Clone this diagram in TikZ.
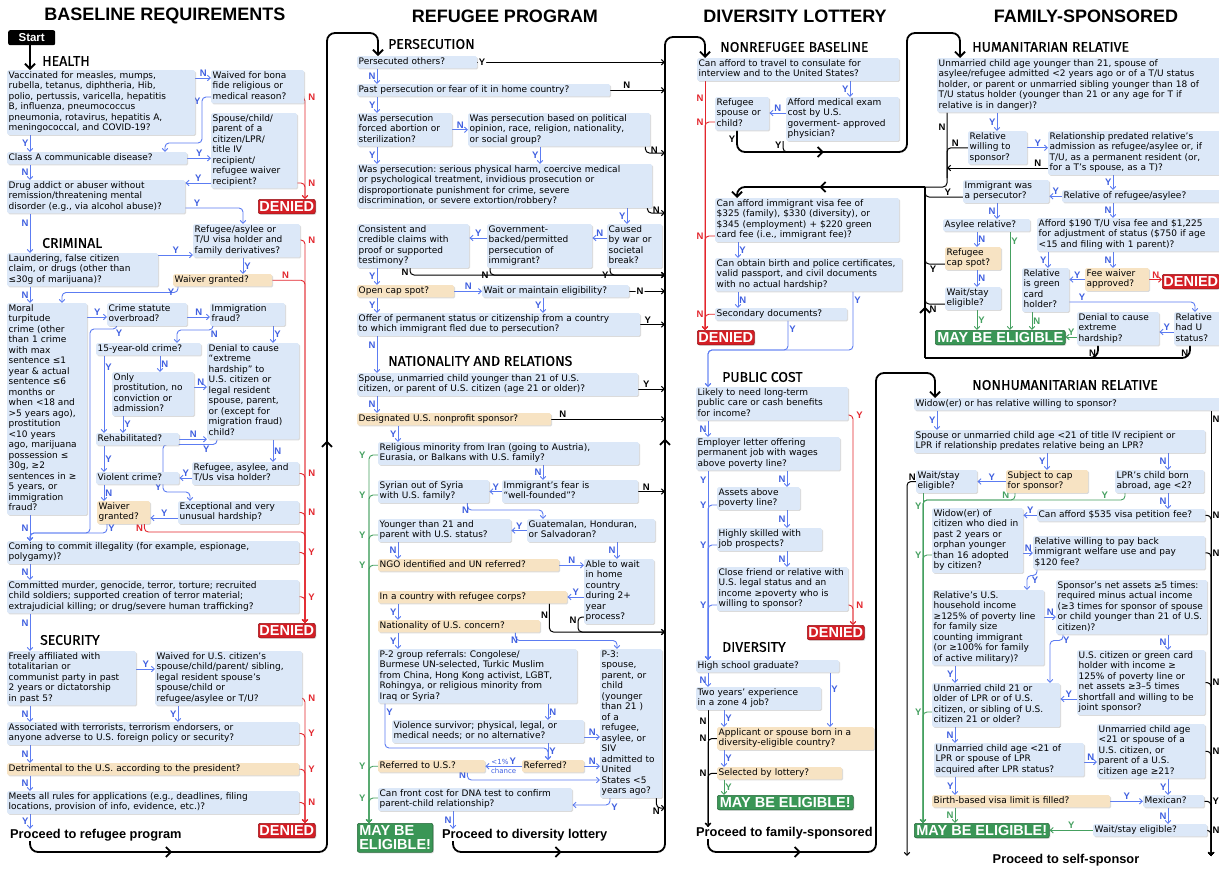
\documentclass[tikz,border=0pt]{standalone}
\usepackage{fontspec}
\usepackage{tikz}
\usetikzlibrary{arrows.meta,shadows,decorations.markings}
\pgfdeclarelayer{bg}
\pgfsetlayers{bg,main}

\newfontfamily\boxfamily{DejaVu Sans}
\newfontfamily\labfamily{Liberation Sans}
\newfontfamily\secfamily{Fira Sans}[FakeBold=0.6]
\newcommand\boxfont{\boxfamily\fontsize{9}{10.5}\selectfont\frenchspacing\hyphenpenalty=10000\exhyphenpenalty=10000}
\newcommand\ynfont{\labfamily\bfseries\fontsize{9.5}{10}\selectfont}
\newcommand\headfont{\secfamily\fontsize{14}{14}\selectfont}
\newcommand\bigtitlefont{\labfamily\bfseries\fontsize{18}{18}\selectfont}
\newcommand\badgefont{\labfamily\bfseries\fontsize{14.5}{14}\selectfont}
\newcommand\gofont{\labfamily\bfseries\fontsize{12.8}{12}\selectfont}
\newcommand\chancefont{\boxfamily\fontsize{7}{7}\selectfont}

\definecolor{qblue}{HTML}{DCE8F8}
\definecolor{qtan}{HTML}{F7E3C3}
\definecolor{lblue}{HTML}{5C7CF2}
\definecolor{labblue}{HTML}{3F5FE0}
\definecolor{lred}{HTML}{E3262D}
\definecolor{dred}{HTML}{D41E25}
\definecolor{lgreen}{HTML}{45A060}
\definecolor{dgreen}{HTML}{3A9656}

\begin{document}
\begin{tikzpicture}[x=1pt,y=-1pt,>={Straight Barb[length=3pt,width=5.5pt]},
  q node/.style={anchor=north west,fill=qblue,rounded corners=1.5pt,inner xsep=1.5pt,
    inner ysep=0.8pt,align=left,font=\boxfont,execute at begin node=\strut,
    execute at end node=\strut,drop shadow={shadow xshift=1pt,shadow yshift=-1pt,opacity=.28}},
  tan node/.style={q node,fill=qtan},
  denied node/.style={anchor=north west,fill=dred,draw=dred!70!black,line width=.6pt,text=white,
    font=\badgefont,rounded corners=2pt,minimum width=57pt,minimum height=14.5pt,inner sep=0pt,
    drop shadow={shadow xshift=1pt,shadow yshift=-1pt,opacity=.28}},
  ok node/.style={denied node,fill=dgreen,draw=dgreen!70!black,align=left,inner xsep=2pt},
  head node/.style={anchor=west,font=\headfont,inner sep=0pt},
  title node/.style={font=\bigtitlefont,inner sep=0pt},
  go node/.style={anchor=west,font=\gofont,inner sep=0pt},
  bl line/.style={draw=lblue,line width=.9pt,rounded corners=4pt,->},
  rd line/.style={draw=lred,line width=.9pt,rounded corners=4pt,->},
  gr line/.style={draw=lgreen,line width=.9pt,rounded corners=4pt,->},
  bk line/.style={draw=black,line width=1pt,rounded corners=4pt,->},
  bracket/.style={draw=black,line width=1.8pt,rounded corners=8pt},
  big tip/.style={-{Straight Barb[length=5pt,width=10pt]}},
  mid tip/.style={postaction={decorate,decoration={markings,
    mark=at position #1 with {\arrow{Straight Barb[length=5pt,width=10pt]}}}}},
  bl lab/.style={font=\ynfont,text=labblue,inner sep=1pt},
  rd lab/.style={font=\ynfont,text=lred,inner sep=1pt},
  gr lab/.style={font=\ynfont,text=lgreen,inner sep=1pt},
  bk lab/.style={font=\ynfont,text=black,inner sep=1pt}]

  \useasboundingbox (0,0) rectangle (1219,871);

  % titles and headings
  \node[title node] (t1) at (165,16) {BASELINE REQUIREMENTS};
  \node[title node] (t2) at (505,16) {REFUGEE PROGRAM};
  \node[title node] (t3) at (795,16) {DIVERSITY LOTTERY};
  \node[title node] (t4) at (1086,16) {FAMILY-SPONSORED};
  \node[head node] (health) at (42,61) {HEALTH};
  \node[head node] (criminal) at (42,243) {CRIMINAL};
  \node[head node] (security) at (40,640) {SECURITY};
  \node[head node] (persecution) at (388,44) {PERSECUTION};
  \node[head node] (nationality) at (388,361) {NATIONALITY AND RELATIONS};
  \node[head node] (nonref) at (720,47) {NONREFUGEE BASELINE};
  \node[head node] (pubcost) at (722,377) {PUBLIC COST};
  \node[head node] (diversity) at (722,647) {DIVERSITY};
  \node[head node] (humrel) at (972,47) {HUMANITARIAN RELATIVE};
  \node[head node] (nonhum) at (972,385) {NONHUMANITARIAN RELATIVE};
  \node[go node] (go1) at (10,835) {Proceed to refugee program};
  \node[go node] (go2) at (442,835) {Proceed to diversity lottery};
  \node[go node] (go3) at (696,833) {Proceed to family-sponsored};
  \node[go node,anchor=center] (go4) at (1066,860) {Proceed to self-sponsor};
  \node[anchor=north west,fill=black,text=white,font=\labfamily\bfseries\fontsize{11.5}{11}\selectfont,
    rounded corners=2pt,minimum width=47pt,minimum height=15pt,inner sep=0pt] (start) at (8,30) {Start};

  % baseline requirements
  \node[q node,text width=185pt] (vacc) at (7,70) {Vaccinated for measles, mumps,\\rubella, tetanus, diphtheria, Hib,\\polio, pertussis, varicella, hepatitis\\B, influenza, pneumococcus\\pneumonia, rotavirus, hepatitis A,\\meningococcal, and COVID-19?};
  \node[q node,text width=90pt] (waived) at (211,70) {Waived for bona\\fide religious or\\medical reason?};
  \node[q node,text width=83pt] (spouse) at (211,113) {Spouse/child/\\parent of a\\citizen/LPR/\\title IV\\recipient/\\refugee waiver\\recipient?};
  \node[q node,text width=177pt] (classA) at (7,152) {Class A communicable disease?};
  \node[q node,text width=175pt] (drug) at (7,180) {Drug addict or abuser without\\remission/threatening mental\\disorder (e.g., via alcohol abuse)?};
  \node[denied node] (den1) at (258,199) {DENIED};
  \node[q node,text width=104pt] (refasylee) at (193,224) {Refugee/asylee or\\T/U visa holder and\\family derivatives?};
  \node[q node,text width=148pt] (launder) at (7,253) {Laundering, false citizen\\claim, or drugs (other than\\≤30g of marijuana)?};
  \node[tan node,text width=96pt] (waiver1) at (173,274) {Waiver granted?};
  \node[q node,text width=77pt] (moral) at (7,303) {Moral\\turpitude\\crime (other\\than 1 crime\\with max\\sentence ≤1\\year \& actual\\sentence ≤6\\months or\\when <18 and\\>5 years ago),\\prostitution\\<10 years\\ago, marijuana\\possession ≤\\30g, ≥2\\sentences in ≥\\5 years, or\\immigration\\fraud?};
  \node[q node,text width=77pt] (statute) at (107,303) {Crime statute\\overbroad?};
  \node[q node,text width=72pt] (immfraud) at (210,303) {Immigration\\fraud?};
  \node[q node,text width=102pt] (fifteen) at (96,343) {15-year-old crime?};
  \node[q node,text width=89pt] (denial1) at (207,343) {Denial to cause\\“extreme\\hardship” to\\U.S. citizen or\\legal resident\\spouse, parent,\\or (except for\\migration fraud)\\child?};
  \node[q node,text width=79pt] (onlyprost) at (112,372) {Only\\prostitution, no\\conviction or\\admission?};
  \node[q node,text width=80pt] (rehab) at (96,433) {Rehabilitated?};
  \node[q node,text width=104pt] (refasy2) at (192,462) {Refugee, asylee, and\\T/Us visa holder?};
  \node[q node,text width=80pt] (violent) at (96,472) {Violent crime?};
  \node[tan node,text width=50pt] (waiver2) at (97,501) {Waiver\\granted?};
  \node[q node,text width=118pt] (except) at (178,501) {Exceptional and very\\unusual hardship?};
  \node[q node,text width=289pt] (coming) at (7,541) {Coming to commit illegality (for example, espionage,\\polygamy)?};
  \node[q node,text width=289pt] (murder) at (7,580) {Committed murder, genocide, terror, torture; recruited\\child soldiers; supported creation of terror material;\\extrajudicial killing; or drug/severe human trafficking?};
  \node[denied node] (den2) at (258,623) {DENIED};
  \node[q node,text width=126pt] (freely) at (7,651) {Freely affiliated with\\totalitarian or\\communist party in past\\2 years or dictatorship\\in past 5?};
  \node[q node,text width=144pt] (waivedUS) at (155,651) {Waived for U.S. citizen’s\\spouse/child/parent/ sibling,\\legal resident spouse’s\\spouse/child or\\refugee/asylee or T/U?};
  \node[q node,text width=289pt] (assoc) at (7,722) {Associated with terrorists, terrorism endorsers, or\\anyone adverse to U.S. foreign policy or security?};
  \node[tan node,text width=289pt] (detr) at (7,763) {Detrimental to the U.S. according to the president?};
  \node[q node,text width=289pt] (meets) at (7,791) {Meets all rules for applications (e.g., deadlines, filing\\locations, provision of info, evidence, etc.)?};
  \node[denied node] (den3) at (258,823) {DENIED};

  % refugee program
  \node[q node,text width=117pt] (persecuted) at (357,56) {Persecuted others?};
  \node[q node,text width=250pt] (past) at (357,84) {Past persecution or fear of it in home country?};
  \node[q node,text width=92pt] (wasforced) at (357,113) {Was persecution\\forced abortion or\\sterilization?};
  \node[q node,text width=179pt] (wasbased) at (468,113) {Was persecution based on political\\opinion, race, religion, nationality,\\or social group?};
  \node[q node,text width=292pt] (wasser) at (357,164) {Was persecution: serious physical harm, coercive medical\\or psychological treatment, invidious prosecution or\\disproportionate punishment for crime, severe\\discrimination, or severe extortion/robbery?};
  \node[q node,text width=109pt] (consist) at (357,224) {Consistent and\\credible claims with\\proof or supported\\testimony?};
  \node[q node,text width=102pt] (govt) at (487,224) {Government-\\backed/permitted\\persecution of\\immigrant?};
  \node[q node,text width=52pt] (caused) at (607,224) {Caused\\by war or\\societal\\break?};
  \node[tan node,text width=94pt] (opencap) at (357,285) {Open cap spot?};
  \node[q node,text width=144pt] (waitmaint) at (482,285) {Wait or maintain eligibility?};
  \node[q node,text width=280pt] (offer) at (357,313) {Offer of permanent status or citizenship from a country\\to which immigrant fled due to persecution?};
  \node[q node,text width=278pt] (spouseunm) at (357,373) {Spouse, unmarried child younger than 21 of U.S.\\citizen, or parent of U.S. citizen (age 21 or older)?};
  \node[tan node,text width=191pt] (desig) at (357,413) {Designated U.S. nonprofit sponsor?};
  \node[q node,text width=258pt] (relig) at (378,442) {Religious minority from Iran (going to Austria),\\Eurasia, or Balkans with U.S. family?};
  \node[q node,text width=133pt] (fear) at (502,480) {Immigrant’s fear is\\“well-founded”?};
  \node[q node,text width=108pt] (syrian) at (378,480) {Syrian out of Syria\\with U.S. family?};
  \node[q node,text width=125pt] (guat) at (527,519) {Guatemalan, Honduran,\\or Salvadoran?};
  \node[q node,text width=130pt] (younger) at (378,519) {Younger than 21 and\\parent with U.S. status?};
  \node[tan node,text width=178pt] (ngo) at (378,559) {NGO identified and UN referred?};
  \node[q node,text width=67pt] (able) at (584,559) {Able to wait\\in home\\country\\during 2+\\year\\process?};
  \node[tan node,text width=186pt] (refcorps) at (378,591) {In a country with refugee corps?};
  \node[tan node,text width=159pt] (nat) at (378,620) {Nationality of U.S. concern?};
  \node[q node,text width=196pt] (p2) at (378,649) {P-2 group referrals: Congolese/\\Burmese UN-selected, Turkic Muslim\\from China, Hong Kong activist, LGBT,\\Rohingya, or religious minority from\\Iraq or Syria?};
  \node[q node,text width=59pt] (p3) at (600,649) {P-3:\\spouse,\\parent, or\\child\\(younger\\than 21 )\\of a\\refugee,\\asylee, or\\SIV\\admitted to\\United\\States <5\\years ago?};
  \node[q node,text width=189pt] (violence) at (392,720) {Violence survivor; physical, legal, or\\medical needs; or no alternative?};
  \node[tan node,text width=59pt] (referred) at (522,760) {Referred?};
  \node[tan node,text width=104pt] (refus) at (378,760) {Referred to U.S.?};
  \node[q node,text width=191pt] (dna) at (378,788) {Can front cost for DNA test to confirm\\parent-child relationship?};
  \node[ok node,minimum width=75pt,minimum height=29pt] (mbe2) at (357,823) {MAY BE\\ELIGIBLE!};

  % diversity lottery
  \node[q node,text width=199pt] (afford) at (697,58) {Can afford to travel to consulate for\\interview and to the United States?};
  \node[q node,text width=110pt] (medexam) at (786,97) {Afford medical exam\\cost by U.S.\\goverment- approved\\physician?};
  \node[q node,text width=51pt] (refsp) at (715,97) {Refugee\\spouse or\\child?};
  \node[q node,text width=181pt] (visafee) at (715,198) {Can afford immigrant visa fee of\\\$325 (family), \$330 (diversity), or\\\$345 (employment) + \$220 green\\card fee (i.e., immigrant fee)?};
  \node[q node,text width=184pt] (obtain) at (715,258) {Can obtain birth and police certificates,\\valid passport, and civil documents\\with no actual hardship?};
  \node[q node,text width=129pt] (secondary) at (715,308) {Secondary documents?};
  \node[denied node] (den4) at (697,330) {DENIED};
  \node[q node,text width=149pt] (likely) at (696,387) {Likely to need long-term\\public care or cash benefits\\for income?};
  \node[q node,text width=141pt] (employer) at (696,437) {Employer letter offering\\permanent job with wages\\above poverty line?};
  \node[q node,text width=80pt] (assets) at (717,487) {Assets above\\poverty line?};
  \node[q node,text width=102pt] (highly) at (717,528) {Highly skilled with\\job prospects?};
  \node[q node,text width=128pt] (close) at (717,567) {Close friend or relative with\\U.S. legal status and an\\income ≥poverty who is\\willing to sponsor?};
  \node[denied node] (den5) at (807,625) {DENIED};
  \node[q node,text width=140pt] (hs) at (696,660) {High school graduate?};
  \node[q node,text width=122pt] (two) at (696,687) {Two years’ experience\\in a zone 4 job?};
  \node[tan node,text width=154pt] (applicant) at (717,727) {Applicant or spouse born in a\\diversity-eligible country?};
  \node[tan node,text width=122pt] (lottery) at (717,767) {Selected by lottery?};
  \node[ok node,minimum width=136pt] (mbe3) at (717,795) {MAY BE ELIGIBLE!};

  % family-sponsored
  \node[q node,text width=287pt] (unmarried) at (937,58) {Unmarried child age younger than 21, spouse of\\asylee/refugee admitted <2 years ago or of a T/U status\\holder, or parent or unmarried sibling younger than 18 of\\T/U status holder (younger than 21 or any age for T if\\relative is in danger)?};
  \node[q node,text width=56pt] (relwill) at (968,131) {Relative\\willing to\\sponsor?};
  \node[q node,text width=174pt] (relpred) at (1048,131) {Relationship predated relative’s\\admission as refugee/asylee or, if\\T/U, as a permanent resident (or,\\for a T’s spouse, as a T)?};
  \node[q node,text width=83pt] (persec) at (963,180) {Immigrant was\\a persecutor?};
  \node[q node,text width=160pt] (relref) at (1062,190) {Relative of refugee/asylee?};
  \node[q node,text width=84pt] (asylee) at (943,219) {Asylee relative?};
  \node[q node,text width=185pt] (afford190) at (1037,218) {Afford \$190 T/U visa fee and \$1,225\\for adjustment of status (\$750 if age\\<15 and filing with 1 parent)?};
  \node[tan node,text width=53pt] (refcap) at (945,247) {Refugee\\cap spot?};
  \node[q node,text width=53pt] (waitstay1) at (945,287) {Wait/stay\\eligible?};
  \node[q node,text width=44pt] (relgreen) at (1022,268) {Relative\\is green\\card\\holder?};
  \node[tan node,text width=61pt] (feewaiver) at (1085,268) {Fee waiver\\approved?};
  \node[denied node] (den6) at (1162,274) {DENIED};
  \node[q node,text width=48pt] (relU) at (1174,312) {Relative\\had U\\status?};
  \node[q node,text width=79pt] (denialext) at (1077,312) {Denial to cause\\extreme\\hardship?};
  \node[ok node,minimum width=127pt] (mbe4) at (935,330) {MAY BE ELIGIBLE};
  \node[q node,text width=308pt] (widow) at (914,398) {Widow(er) or has relative willing to sponsor?};
  \node[q node,text width=288pt] (spouseLPR) at (914,430) {Spouse or unmarried child age <21 of title IV recipient or\\LPR if relationship predates relative being an LPR?};
  \node[tan node,text width=79pt] (subj) at (1006,470) {Subject to cap\\for sponsor?};
  \node[q node,text width=86pt] (lprchild) at (1115,470) {LPR’s child born\\abroad, age <2?};
  \node[q node,text width=58pt] (waitstay2) at (916,470) {Wait/stay\\eligible?};
  \node[q node,text width=165pt] (canafford) at (1037,509) {Can afford \$535 visa petition fee?};
  \node[q node,text width=88pt] (widowof) at (932,508) {Widow(er) of\\citizen who died in\\past 2 years or\\orphan younger\\than 16 adopted\\by citizen?};
  \node[q node,text width=169pt] (relpay) at (1033,536) {Relative willing to pay back\\immigrant welfare use and pay\\\$120 fee?};
  \node[q node,text width=109pt] (relhh) at (932,590) {Relative’s U.S.\\household income\\≥125\% of poverty line\\for family size\\counting immigrant\\(or ≥100\% for family\\of active military)?};
  \node[q node,text width=148pt] (netassets) at (1056,580) {Sponsor’s net assets ≥5 times:\\required minus actual income\\(≥3 times for sponsor of spouse\\or child younger than 21 of U.S.\\citizen)?};
  \node[q node,text width=125pt] (uscit) at (1077,650) {U.S. citizen or green card\\holder with income ≥\\125\% of poverty line or\\net assets ≥3–5 times\\shortfall and willing to be\\joint sponsor?};
  \node[q node,text width=125pt] (unm21) at (932,683) {Unmarried child 21 or\\older of LPR or of U.S.\\citizen, or sibling of U.S.\\citizen 21 or older?};
  \node[q node,text width=147pt] (unmlpr) at (934,743) {Unmarried child age <21 of\\LPR or spouse of LPR\\acquired after LPR status?};
  \node[q node,text width=105pt] (unmcit) at (1097,724) {Unmarried child age\\<21 or spouse of a\\U.S. citizen, or\\parent of a U.S.\\citizen age ≥21?};
  \node[tan node,text width=175pt] (birth) at (932,795) {Birth-based visa limit is filled?};
  \node[q node,text width=58pt] (mexican) at (1143,795) {Mexican?};
  \node[q node,text width=111pt] (waitstay3) at (1093,824) {Wait/stay eligible?};
  \node[ok node,minimum width=135pt] (mbe5) at (914,823) {MAY BE ELIGIBLE!};

  % trunk points
  \coordinate (rt1) at (305,0);
  \coordinate (bk2) at (665,0);
  \coordinate (gt2) at (369,0);
  \coordinate (rt3) at (705,0);
  \coordinate (rt3b) at (853,0);
  \coordinate (bt3) at (708,0);
  \coordinate (b4) at (860,152);
  \coordinate (jn) at (925,187);
  \coordinate (jb) at (925,358);
  \coordinate (vn) at (947,178);
  \coordinate (rt4) at (1211,0);
  \coordinate (gt4) at (923,0);
  \coordinate (endR) at (1211,856);
  \coordinate (endL) at (907,856);

  \begin{pgfonlayer}{bg}
  \fill[white] (0,0) rectangle (1219,871);
  % baseline connectors
  \draw[bk line,line width=1.8pt,big tip] (start.south -| 30,0) -- ([xshift=23pt]vacc.north west);
  \draw[bl line] (vacc.east |- 0,78) -- node[bl lab,above]{N} (waived.west |- 0,78);
  \draw[bl line] (waived.west |- 0,97) -| node[bl lab,pos=.55,left]{Y} (202,143) -| (classA.north -| 165,0);
  \draw[bl line] (vacc.south -| 30,0) -- node[bl lab,left]{Y} (classA.north -| 30,0);
  \draw[bl line] (classA.east) -- node[bl lab,above]{Y} (classA.east -| spouse.west);
  \draw[bl line] (spouse.west |- 0,183) -- node[bl lab,above]{Y} (drug.east |- 0,183);
  \draw[rd line] (waived.east |- 0,97) -| node[rd lab,pos=.5,right,xshift=2pt]{N} (den1.north -| rt1);
  \draw[rd line] (spouse.east |- 0,183) -| node[rd lab,pos=.5,right,xshift=2pt]{N} (den1.north -| rt1);
  \draw[bl line] (classA.south -| 30,0) -- node[bl lab,left]{N} (drug.north -| 30,0);
  \draw[bl line] (drug.east |- 0,208) -| node[bl lab,pos=.1,above]{Y} (refasylee.north -| 243,0);
  \draw[bl line] (drug.south -| 30,0) -- node[bl lab,left,pos=.25]{N} (launder.north -| 30,0);
  \draw[bl line] (launder.east |- 0,255) -- node[bl lab,above]{Y} (refasylee.west |- 0,255);
  \draw[bl line] (refasylee.south -| 243,0) -- node[bl lab,right]{Y} (waiver1.north -| 243,0);
  \draw[rd line] (refasylee.east |- 0,240) -| node[rd lab,pos=.5,right,xshift=2pt]{N} (den2.north -| rt1);
  \draw[rd line] (waiver1.east) -| node[rd lab,pos=.2,above]{N} (den2.north -| rt1);
  \draw[bl line] ([xshift=5pt]waiver1.south west) -- ++(0,6) -| node[bl lab,pos=.05,right]{Y} (moral.north -| 62,0);
  \draw[bl line] (launder.south -| 30,0) -- node[bl lab,left]{N} (moral.north -| 30,0);
  \draw[bl line] (moral.east |- 0,317) -- node[bl lab,above]{Y} (statute.west |- 0,317);
  \draw[bl line] (statute.east |- 0,317) -- node[bl lab,above]{N} (immfraud.west |- 0,317);
  \draw[bl line] ([xshift=10pt]statute.south west) -- ++(0,3) -| node[bl lab,pos=.05,below right]{Y} (90,533) -| (coming.north -| 30,0);
  \draw[bl line] ([xshift=3pt]immfraud.south west) -- ++(0,4) -| node[bl lab,pos=.05,below right]{N} (fifteen.north -| 177,0);
  \draw[bl line] (immfraud.south -| 273,0) -- node[bl lab,right]{Y} (denial1.north -| 273,0);
  \draw[bl line] (fifteen.south -| 104,0) -- node[bl lab,right,pos=.15]{Y} (rehab.north -| 104,0);
  \draw[bl line] (fifteen.south -| 160,0) -- node[bl lab,right]{N} (onlyprost.north -| 160,0);
  \draw[bl line] (onlyprost.east |- 0,387) -- node[bl lab,above]{N} (denial1.west |- 0,387);
  \draw[bl line] (onlyprost.south -| 123,0) -- node[bl lab,right]{Y} (rehab.north -| 123,0);
  \draw[bl line] (rehab.east) -- node[bl lab,above]{N} (rehab.east -| denial1.west);
  \draw[bl line] (rehab.south -| 104,0) -- node[bl lab,right]{Y} (violent.north -| 104,0);
  \draw[bl line] ([xshift=10pt]denial1.south west) -- ++(0,5) -| node[bl lab,pos=.1,below]{Y} node[bl lab,pos=.95,left]{Y} (163,492) -| ([xshift=12pt]except.north west);
  \draw[bl line] (denial1.south -| 273,0) -- node[bl lab,right]{N} (refasy2.north -| 273,0);
  \draw[bl line] (refasy2.west |- 0,478) -- node[bl lab,above]{Y} (violent.east |- 0,478);
  \draw[rd line] (refasy2.east) -| node[rd lab,pos=.5,right,xshift=2pt]{N} (den2.north -| rt1);
  \draw[bl line] (violent.south -| 104,0) -- node[bl lab,right]{N} (waiver2.north -| 104,0);
  \draw[bl line] (except.west |- 0,518) -- node[bl lab,above]{Y} (waiver2.east |- 0,518);
  \draw[rd line] (except.east) -| node[rd lab,pos=.5,right,xshift=2pt]{N} (den2.north -| rt1);
  \draw[bl line] ([xshift=10pt]waiver2.south west) -- node[bl lab,right]{Y} ++(0,9) -| (coming.north -| 30,0);
  \draw[rd line] ([xshift=-6pt]waiver2.south east) -- node[rd lab,left]{N} ++(0,8) -| (den2.north -| rt1);
  \draw[bl line] (moral.south -| 30,0) -- node[bl lab,left]{N} (coming.north -| 30,0);
  \draw[rd line] (coming.east) -| node[rd lab,pos=.5,right,xshift=2pt]{Y} (den2.north -| rt1);
  \draw[bl line] (coming.south -| 30,0) -- node[bl lab,left]{N} (murder.north -| 30,0);
  \draw[rd line] (murder.east) -| node[rd lab,pos=.5,right,xshift=2pt]{Y} (den2.north -| rt1);
  \draw[bl line] (murder.south -| 30,0) -- node[bl lab,left,pos=.25]{N} (freely.north -| 30,0);
  \draw[bl line] (freely.east |- 0,669) -- node[bl lab,above]{Y} (waivedUS.west |- 0,669);
  \draw[bl line] (waivedUS.south -| 178,0) -- node[bl lab,left]{Y} (assoc.north -| 178,0);
  \draw[rd line] (waivedUS.east |- 0,698) -| node[rd lab,pos=.5,right,xshift=2pt]{N} (den3.north -| rt1);
  \draw[bl line] (freely.south -| 30,0) -- node[bl lab,left]{N} (assoc.north -| 30,0);
  \draw[rd line] (assoc.east) -| node[rd lab,pos=.5,right,xshift=2pt]{Y} (den3.north -| rt1);
  \draw[bl line] (assoc.south -| 30,0) -- node[bl lab,left]{N} (detr.north -| 30,0);
  \draw[rd line] (detr.east) -| node[rd lab,pos=.5,right,xshift=2pt]{Y} (den3.north -| rt1);
  \draw[bl line] (detr.south -| 30,0) -- node[bl lab,left]{N} (meets.north -| 30,0);
  \draw[rd line] (meets.east) -| node[rd lab,pos=.5,right,xshift=2pt]{N} (den3.north -| rt1);
  \draw[bl line] (meets.south -| 30,0) -- node[bl lab,left]{Y} (go1.north -| 30,0);
  \draw[bracket,big tip,mid tip=.126,mid tip=.6] (go1.south -| 30,0) |- (327,852) |- (378,33) -- ([xshift=21pt]persecuted.north west);

  % refugee connectors
  \draw[bl line] (persecuted.south -| 377,0) -- node[bl lab,left]{N} (past.north -| 377,0);
  \draw[bk line] (persecuted.east) -- node[bk lab,pos=0,anchor=west,fill=white]{Y} (persecuted.east -| bk2);
  \draw[bk line] (past.east) -- node[bk lab,pos=.3,above]{N} (past.east -| bk2);
  \draw[bl line] (past.south -| 377,0) -- node[bl lab,left]{Y} (wasforced.north -| 377,0);
  \draw[bl line] (wasforced.east) -- node[bl lab,above]{N} (wasbased.west |- wasforced.east);
  \draw[bk line] ([xshift=-5pt]wasbased.south east) |- node[bk lab,pos=.25,right,xshift=4pt]{N} (bk2 |- 0,153);
  \draw[bl line] (wasforced.south -| 377,0) -- node[bl lab,left]{Y} (wasser.north -| 377,0);
  \draw[bl line] (wasbased.south -| 540,0) -- node[bl lab,left]{Y} (wasser.north -| 540,0);
  \draw[bk line] ([xshift=-5pt]wasser.south east) |- node[bk lab,pos=.25,right,xshift=4pt]{N} (bk2 |- 0,213);
  \draw[bl line] (wasser.south -| 627,0) -- node[bl lab,left]{Y} (caused.north -| 627,0);
  \draw[bl line] (caused.west |- 0,238) -- node[bl lab,above]{N} (govt.east |- 0,238);
  \draw[bl line] (govt.west |- 0,238) -- node[bl lab,above]{Y} (consist.east |- 0,238);
  \draw[bk line] ([xshift=3pt]caused.south west) |- node[bk lab,pos=.1,left,yshift=-6pt]{Y} (bk2 |- 0,275);
  \draw[bk line] ([xshift=3pt]govt.south west) |- node[bk lab,pos=.1,left,yshift=-6pt]{N} (bk2 |- 0,275);
  \draw[bk line] (consist.south -| 410,0) |- node[bk lab,pos=.3,left]{N} (bk2 |- 0,275);
  \draw[bl line] (consist.south -| 377,0) -- node[bl lab,left]{Y} (opencap.north -| 377,0);
  \draw[bl line] (opencap.east) -- node[bl lab,above]{N} (waitmaint.west |- opencap.east);
  \draw[bk line] (waitmaint.east) -- node[bk lab,pos=.3,fill=white]{N} (waitmaint.east -| bk2);
  \draw[bl line] (opencap.south -| 377,0) -- node[bl lab,left]{Y} (offer.north -| 377,0);
  \draw[bl line] (waitmaint.south -| 543,0) -- node[bl lab,left]{Y} (offer.north -| 543,0);
  \draw[bk line] (offer.east) -- node[bk lab,pos=.3,above]{Y} (offer.east -| bk2);
  \draw[bl line] (offer.south -| 377,0) -- node[bl lab,left,pos=.25]{N} (spouseunm.north -| 377,0);
  \draw[bk line] (spouseunm.east |- 0,389) -- node[bk lab,pos=.3,above]{Y} (bk2 |- 0,389);
  \draw[bl line] (spouseunm.south -| 377,0) -- node[bl lab,left]{N} (desig.north -| 377,0);
  \draw[bk line] (desig.east) -- node[bk lab,pos=.1,above]{N} (desig.east -| bk2);
  \draw[bl line] (desig.south -| 398,0) -- node[bl lab,left]{Y} (relig.north -| 398,0);
  \draw[gr line] (relig.west |- 0,455) -| node[gr lab,pos=.5,left,xshift=-2pt]{Y} (mbe2.north -| gt2);
  \draw[bl line] (relig.south -| 543,0) -- node[bl lab,left]{N} (fear.north -| 543,0);
  \draw[bl line] (fear.west) -- node[bl lab,above]{Y} (syrian.east |- fear.west);
  \draw[bk line] (fear.east) -- node[bk lab,pos=.3,above]{N} (fear.east -| bk2);
  \draw[gr line] (syrian.west |- 0,495) -| node[gr lab,pos=.5,left,xshift=-2pt]{Y} (mbe2.north -| gt2);
  \draw[bl line] ([xshift=-22pt]syrian.south east) -- ++(0,7) -| node[bl lab,pos=.02,left]{N} (guat.north -| 543,0);
  \draw[bl line] (guat.west) -- node[bl lab,above]{Y} (younger.east |- guat.west);
  \draw[gr line] (younger.west |- 0,535) -| node[gr lab,pos=.5,left,xshift=-2pt]{Y} (mbe2.north -| gt2);
  \draw[bl line] (younger.south -| 398,0) -- node[bl lab,left]{N} (ngo.north -| 398,0);
  \draw[bl line] (guat.south -| 617,0) -- node[bl lab,left]{N} (able.north -| 617,0);
  \draw[gr line] (ngo.west) -| node[gr lab,pos=.5,left,xshift=-2pt]{Y} (mbe2.north -| gt2);
  \draw[bl line] (ngo.east) -- node[bl lab,above]{N} (able.west |- ngo.east);
  \draw[bl line] (able.west |- 0,597) -- node[bl lab,above]{Y} (refcorps.east |- 0,597);
  \draw[bl line] (refcorps.south -| 398,0) -- node[bl lab,left]{Y} (nat.north -| 398,0);
  \draw[bk line] ([xshift=-18pt]refcorps.south east) |- node[bk lab,pos=.2,left]{N} (bk2 |- 0,632);
  \draw[bk line] (able.west |- 0,617) -- ++(-6,0) |- node[bk lab,pos=.1,left]{N} (bk2 |- 0,632);
  \draw[bl line] (nat.south -| 398,0) -- node[bl lab,left]{Y} (p2.north -| 398,0);
  \draw[bl line] ([xshift=-25pt]nat.south east) -- ++(0,8) -| node[bl lab,pos=.02,left]{N} (p3.north -| 617,0);
  \draw[bl line] (p2.south -| 548,0) -- node[bl lab,right]{N} (violence.north -| 548,0);
  \draw[bl line] ([xshift=7pt]p2.south west) |- node[bl lab,pos=.1,right]{Y} (548,748) -- (referred.north -| 548,0);
  \draw[bl line] (violence.south -| 548,0) -- node[bl lab,right]{Y} (referred.north -| 548,0);
  \draw[bl line] (violence.east |- 0,737) -- node[bl lab,above]{N} (p3.west |- 0,737);
  \draw[bl line] (referred.east) -- node[bl lab,above]{N} (p3.west |- referred.east);
  \draw[bl line] (referred.west) -- node[above,font=\chancefont,text=labblue,inner sep=1pt]{<1\%\,{\ynfont Y}} node[below,font=\chancefont,text=labblue,inner sep=1pt]{chance} (refus.east |- referred.west);
  \draw[gr line] (refus.west) -| node[gr lab,pos=.5,left,xshift=-2pt]{Y} (mbe2.north -| gt2);
  \draw[bl line] ([xshift=-18pt]refus.south east) |- node[bl lab,pos=.2,left]{N} (p3.west |- 0,780);
  \draw[bl line] ([xshift=10pt]p3.south west) |- node[bl lab,pos=.3,below right]{Y} (dna.east |- 0,805);
  \draw[bk line] ([xshift=-6pt]p3.south east) |- node[bk lab,pos=.4,below]{N} (bk2 |- 0,808);
  \draw[gr line] (dna.west |- 0,798) -| node[gr lab,pos=.5,left,xshift=-2pt]{Y} (mbe2.north -| gt2);
  \draw[bl line] (dna.south -| 453,0) -- node[bl lab,left]{N} (go2.north -| 453,0);
  \draw[bracket,big tip,mid tip=.107,mid tip=.58] (go2.south -| 453,0) |- (bk2 |- 0,852) |- (705,37) -- ([xshift=8pt]afford.north west);

  % diversity connectors
  \draw[rd line] (afford.south -| rt3) -- node[rd lab,pos=.07,left]{N} (den4.north -| rt3);
  \draw[bl line] (afford.south -| 850,0) -- node[bl lab,left]{Y} (medexam.north -| 850,0);
  \draw[bl line] (medexam.west |- 0,113) -- node[bl lab,above]{N} (refsp.east |- 0,113);
  \draw[rd line] (refsp.west |- 0,122) -| node[rd lab,pos=.5,left]{N} (den4.north -| rt3);
  \draw[bracket,big tip,mid tip=.28] (refsp.south -| 737,0) |- node[bk lab,pos=.2,left]{Y} (907,152) |- (960,33) -- ([xshift=23pt]unmarried.north west);
  \draw[bk line,-] ([xshift=-3pt]medexam.south west) |- node[bk lab,pos=.2,left]{Y} (b4);
  \draw[rd line] (visafee.west |- 0,236) -| node[rd lab,pos=.5,left]{N} (den4.north -| rt3);
  \draw[bl line] (visafee.south -| 738,0) -- node[bl lab,right]{Y} (obtain.north -| 738,0);
  \draw[bl line] (obtain.south -| 738,0) -- node[bl lab,right]{N} (secondary.north -| 738,0);
  \draw[rd line] (secondary.west) -| node[rd lab,pos=.5,left]{N} (den4.north -| rt3);
  \draw[bl line] (obtain.south -| 853,0) -- node[bl lab,right,pos=.15]{Y} (853,350) -| (likely.north -| bt3);
  \draw[bl line] (secondary.south -| 788,0) -- node[bl lab,right,pos=.3]{Y} (788,350) -| (likely.north -| bt3);
  \draw[rd line] (likely.east |- 0,415) -| node[rd lab,pos=.5,right,xshift=2pt]{Y} (den5.north -| rt3b);
  \draw[bl line] (likely.south -| bt3) -- node[bl lab,left]{N} (employer.north -| bt3);
  \draw[bl line] (employer.south -| 787,0) -- node[bl lab,left]{N} (assets.north -| 787,0);
  \draw[bl line] (employer.south -| bt3) -- node[bl lab,left,pos=.05]{Y} (hs.north -| bt3);
  \draw[bl line] (assets.west |- 0,505) -| node[bl lab,pos=.5,left]{Y} (hs.north -| bt3);
  \draw[bl line] (assets.south -| 787,0) -- node[bl lab,left]{N} (highly.north -| 787,0);
  \draw[bl line] (highly.west |- 0,545) -| node[bl lab,pos=.5,left]{Y} (hs.north -| bt3);
  \draw[bl line] (highly.south -| 787,0) -- node[bl lab,left]{N} (close.north -| 787,0);
  \draw[bl line] (close.west |- 0,605) -| node[bl lab,pos=.5,left]{Y} (hs.north -| bt3);
  \draw[rd line] (close.east |- 0,605) -| node[rd lab,pos=.5,right,xshift=2pt]{N} (den5.north -| rt3b);
  \draw[bl line] (hs.south -| bt3) -- node[bl lab,left]{N} (two.north -| bt3);
  \draw[bl line] (hs.south -| 830,0) -- node[bl lab,right,pos=.3]{Y} (applicant.north -| 830,0);
  \draw[bl line] (two.south -| 724,0) -- node[bl lab,right]{Y} (applicant.north -| 724,0);
  \draw[bk line] (two.south -| bt3) -- node[bk lab,left,pos=.1]{N} (go3.north -| bt3);
  \draw[bk line] (applicant.west) -| node[bk lab,pos=.5,left]{N} (go3.north -| bt3);
  \draw[bk line] (lottery.west) -| node[bk lab,pos=.5,left]{N} (go3.north -| bt3);
  \draw[bl line] (applicant.south -| 724,0) -- node[bl lab,right]{Y} (lottery.north -| 724,0);
  \draw[gr line] (lottery.south -| 724,0) -- node[gr lab,right]{Y} (mbe3.north -| 724,0);
  \draw[bracket,big tip,mid tip=.14] (go3.south -| bt3) |- (876,852) |- (935,373) -- ([xshift=21pt]widow.north west);

  % humanitarian relative connectors
  \draw[bl line] (unmarried.south -| 997,0) -- node[bl lab,left]{Y} (relwill.north -| 997,0);
  \draw[bk line,-] (unmarried.south -| vn) |- node[bk lab,pos=.1,left]{N} (jn);
  \draw[bk line,-] (relwill.west) -| node[bk lab,pos=.3,above]{N} (vn);
  \draw[bl line] (relwill.east) -- node[bl lab,above]{Y} (relpred.west |- relwill.east);
  \draw[bk line] (relpred.west |- 0,168) -- node[bk lab,pos=.1,above]{N} (vn |- 0,168);
  \draw[bl line] (relpred.south -| 1113,0) -- node[bl lab,left]{Y} (relref.north -| 1113,0);
  \draw[bl line] (relref.west) -- node[bl lab,above]{Y} (persec.east |- relref.west);
  \draw[bk line,-] (persec.west |- 0,197) -| node[bk lab,pos=.2,above]{Y} (jn);
  \draw[bl line] (persec.south -| 997,0) -- node[bl lab,left]{N} (asylee.north -| 997,0);
  \draw[bl line] (relref.south -| 1113,0) -- node[bl lab,left]{N} (afford190.north -| 1113,0);
  \draw[bl line] (asylee.south -| 977,0) -- node[bl lab,right]{N} (refcap.north -| 977,0);
  \draw[gr line] (asylee.south -| 1010,0) -- node[gr lab,right,pos=.1]{Y} (mbe4.north -| 1010,0);
  \draw[bk line,-] (refcap.west |- 0,264) -| node[bk lab,pos=.3,below]{Y} (jn);
  \draw[bl line] (refcap.south -| 977,0) -- node[bl lab,right]{N} (waitstay1.north -| 977,0);
  \draw[bk line,-] (waitstay1.west |- 0,304) -| node[bk lab,pos=.3,below]{N} (jn);
  \draw[gr line] (waitstay1.south -| 977,0) -- node[gr lab,right]{Y} (mbe4.north -| 977,0);
  \draw[bl line] (afford190.south -| 1048,0) -- node[bl lab,left]{Y} (relgreen.north -| 1048,0);
  \draw[bl line] (afford190.south -| 1113,0) -- node[bl lab,left]{N} (feewaiver.north -| 1113,0);
  \draw[bl line] (feewaiver.west) -- node[bl lab,above]{Y} (relgreen.east |- feewaiver.west);
  \draw[rd line] (feewaiver.east) -- node[rd lab,above]{N} (den6.west |- feewaiver.east);
  \draw[bl line] (relgreen.east |- 0,302) -| node[bl lab,pos=.05,above]{Y} (relU.north -| 1195,0);
  \draw[gr line] (relgreen.south -| 1032,0) -- node[gr lab,right]{N} (mbe4.north -| 1032,0);
  \draw[bl line] (relU.west |- 0,332) -- node[bl lab,above]{Y} (denialext.east |- 0,332);
  \draw[gr line] (denialext.west |- 0,337) -- node[gr lab,above]{Y} (mbe4.east |- 0,337);
  \draw[bracket] (relU.south -| 1190,0) |- node[bk lab,pos=.3,left]{N} (jb);
  \draw[bracket] (denialext.south -| 1098,0) |- node[bk lab,pos=.3,left]{N} (jb);
  \draw[bracket,mid tip=.3] (jb) -- (jn);
  \draw[bracket,big tip,mid tip=.54] (jn) -| ([xshift=22pt]visafee.north west);

  % nonhumanitarian relative connectors
  \draw[bk line] (widow.south -| rt4) -- node[bk lab,pos=.02,right]{N} (endR);
  \draw[bl line] (widow.south -| 937,0) -- node[bl lab,left]{Y} (spouseLPR.north -| 937,0);
  \draw[bl line] (spouseLPR.south -| 1047,0) -- node[bl lab,left]{Y} (subj.north -| 1047,0);
  \draw[bl line] (spouseLPR.south -| 1168,0) -- node[bl lab,left]{N} (lprchild.north -| 1168,0);
  \draw[bl line] (subj.west) -- node[bl lab,above]{Y} (waitstay2.east |- subj.west);
  \draw[bk line] (waitstay2.west) -| node[bk lab,pos=.2,above]{N} (endL);
  \draw[gr line] (waitstay2.south -| gt4) -- node[gr lab,left,pos=.04]{Y} (mbe5.north -| gt4);
  \draw[gr line] ([xshift=9pt]subj.south west) -- ++(0,7) -| node[gr lab,pos=.05,above]{N} (mbe5.north -| gt4);
  \draw[gr line] ([xshift=10pt]lprchild.south west) -- ++(0,7) -| node[gr lab,pos=.05,above]{Y} (mbe5.north -| gt4);
  \draw[bl line] (lprchild.south -| 1168,0) -- node[bl lab,left]{N} (canafford.north -| 1168,0);
  \draw[bl line] (canafford.west) -- node[bl lab,above]{Y} (widowof.east |- canafford.west);
  \draw[bk line] (canafford.east) -| node[bk lab,pos=.5,right]{N} (endR);
  \draw[gr line] (widowof.west |- 0,555) -| node[gr lab,pos=.5,left]{Y} (mbe5.north -| gt4);
  \draw[bl line] (widowof.east |- 0,553) -- node[bl lab,above]{N} (relpay.west |- 0,553);
  \draw[bk line] (relpay.east) -| node[bk lab,pos=.5,right]{N} (endR);
  \draw[bl line] ([xshift=4pt]relpay.south west) -- ++(0,6) -| node[bl lab,pos=.1,below]{Y} (relhh.north -| 1027,0);
  \draw[bl line] (relhh.east |- 0,617) -- node[bl lab,above]{N} (netassets.west |- 0,617);
  \draw[bl line] (relhh.south -| 955,0) -- node[bl lab,left]{Y} (unm21.north -| 955,0);
  \draw[bl line] ([xshift=7pt]netassets.south west) -- ++(0,6) -| node[bl lab,pos=.05,right]{Y} (unm21.north -| 1050,0);
  \draw[bl line] (netassets.south -| 1168,0) -- node[bl lab,left]{N} (uscit.north -| 1168,0);
  \draw[bl line] (uscit.west |- 0,699) -- node[bl lab,above]{Y} (unm21.east |- 0,699);
  \draw[bk line] (uscit.east) -| node[bk lab,pos=.5,right]{N} (endR);
  \draw[gr line] (unm21.west |- 0,712) -| node[gr lab,pos=.5,left]{Y} (mbe5.north -| gt4);
  \draw[bl line] (unm21.south -| 955,0) -- node[bl lab,left]{N} (unmlpr.north -| 955,0);
  \draw[bl line] (unmlpr.east |- 0,762) -- node[bl lab,above]{N} (unmcit.west |- 0,762);
  \draw[bk line] (unmcit.east) -| node[bk lab,pos=.5,right]{N} (endR);
  \draw[bl line] (unmlpr.south -| 955,0) -- node[bl lab,left]{Y} (birth.north -| 955,0);
  \draw[bl line] (unmcit.south -| 1168,0) -- node[bl lab,left]{Y} (mexican.north -| 1168,0);
  \draw[bl line] (birth.east) -- node[bl lab,above]{Y} (mexican.west |- birth.east);
  \draw[bk line] (mexican.east) -| node[bk lab,pos=.5,right]{Y} (endR);
  \draw[bl line] (mexican.south -| 1168,0) -- node[bl lab,left]{N} (waitstay3.north -| 1168,0);
  \draw[gr line] (birth.south -| 955,0) -- node[gr lab,left]{N} (mbe5.north -| 955,0);
  \draw[gr line] (waitstay3.west) -- node[gr lab,above]{Y} (mbe5.east |- waitstay3.west);
  \draw[bk line] (waitstay3.east) -| node[bk lab,pos=.5,right]{N} (endR);
  \end{pgfonlayer}
\end{tikzpicture}
\end{document}
